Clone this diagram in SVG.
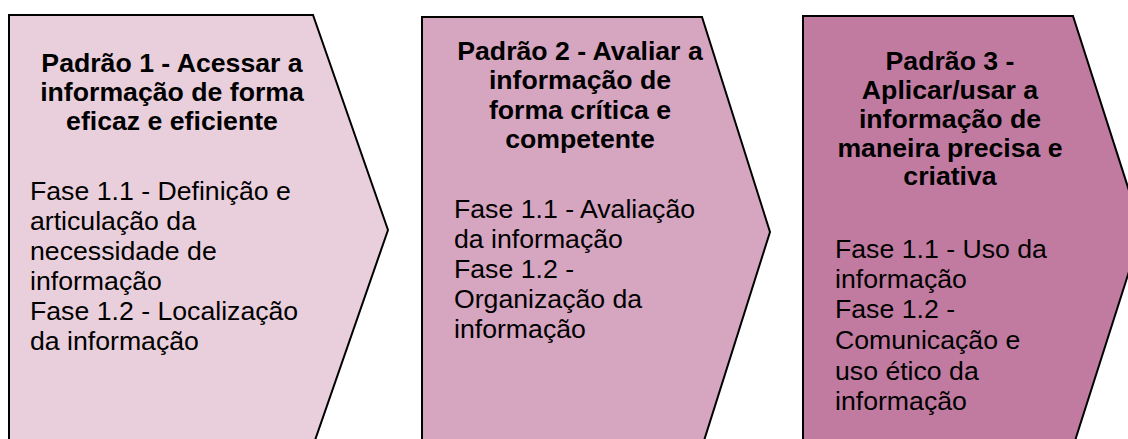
<svg xmlns="http://www.w3.org/2000/svg" width="1128" height="439" viewBox="0 0 1128 439">
<style>
.shape{stroke:#000;stroke-width:2;stroke-linejoin:miter}
.t{font-family:"Liberation Sans",Arial,sans-serif;font-size:26.67px;fill:#000}
.b{font-weight:bold;text-anchor:middle}
</style>
<rect width="1128" height="439" fill="#fff"/>
<g id="node1">
<polygon class="shape" fill="#E9CFDB" points="9,15 313,15 388,230 313,446 9,446"/>
<text class="t b" x="172" y="72">Padrão 1 - Acessar a</text>
<text class="t b" x="172" y="101">informação de forma</text>
<text class="t b" x="172" y="130">eficaz e eficiente</text>
<text class="t" x="30" y="200">Fase 1.1 - Definição e</text>
<text class="t" x="30" y="230">articulação da</text>
<text class="t" x="30" y="260">necessidade de</text>
<text class="t" x="30" y="290">informação</text>
<text class="t" x="30" y="320">Fase 1.2 - Localização</text>
<text class="t" x="30" y="350">da informação</text>
</g>
<g id="node2">
<polygon class="shape" fill="#D6A5C0" points="422,17 702,17 770,232 702,447 422,447"/>
<text class="t b" x="580" y="60">Padrão 2 - Avaliar a</text>
<text class="t b" x="580" y="89">informação de</text>
<text class="t b" x="580" y="119">forma crítica e</text>
<text class="t b" x="580" y="148">competente</text>
<text class="t" x="454" y="218">Fase 1.1 - Avaliação</text>
<text class="t" x="454" y="248">da informação</text>
<text class="t" x="454" y="278">Fase 1.2 -</text>
<text class="t" x="454" y="308">Organização da</text>
<text class="t" x="454" y="338">informação</text>
</g>
<g id="node3">
<polygon class="shape" fill="#C27BA0" points="803,16 1073,16 1142,231 1073,447 803,447"/>
<text class="t b" x="950" y="70">Padrão 3 -</text>
<text class="t b" x="950" y="99">Aplicar/usar a</text>
<text class="t b" x="950" y="128">informação de</text>
<text class="t b" x="950" y="157">maneira precisa e</text>
<text class="t b" x="950" y="185">criativa</text>
<text class="t" x="835" y="258">Fase 1.1 - Uso da</text>
<text class="t" x="835" y="288">informação</text>
<text class="t" x="835" y="318">Fase 1.2 -</text>
<text class="t" x="835" y="349">Comunicação e</text>
<text class="t" x="835" y="380">uso ético da</text>
<text class="t" x="835" y="410">informação</text>
</g>
<g id="connectors"></g>
</svg>
